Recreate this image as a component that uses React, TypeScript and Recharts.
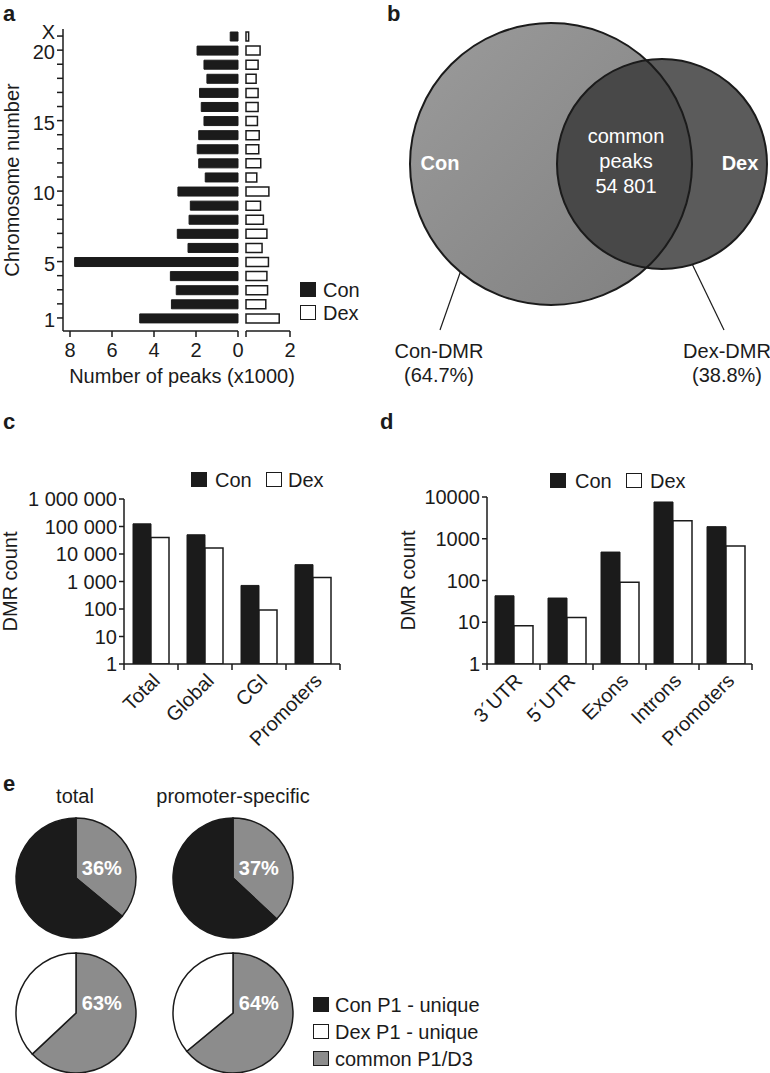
import React from "react";
import {
  BarChart, Bar, XAxis, YAxis, ScatterChart, Scatter, ReferenceLine, PieChart, Pie, Cell,
} from "recharts";

const FONT = "'Liberation Sans', Arial, Helvetica, sans-serif";
const INK = "#1b1b1b";
const GREY = "#8c8c8c";
const FS = 20;

// a: peaks per chromosome (x1000)
const chromosomes = ["1", "2", "3", "4", "5", "6", "7", "8", "9", "10", "11", "12", "13", "14", "15", "16", "17", "18", "19", "20", "X"];
const conPeaks = [4.68, 3.17, 2.94, 3.22, 7.78, 2.38, 2.89, 2.33, 2.27, 2.86, 1.56, 1.87, 1.94, 1.87, 1.62, 1.75, 1.83, 1.48, 1.62, 1.95, 0.37];
const dexPeaks = [1.51, 0.9, 0.98, 0.95, 1.02, 0.73, 0.95, 0.79, 0.66, 1.04, 0.49, 0.67, 0.58, 0.6, 0.52, 0.55, 0.55, 0.46, 0.55, 0.64, 0.12];
const chromosomeLabels = ["1", "5", "10", "15", "20", "X"];
const conPeakTicks = [0, 2, 4, 6, 8];
const dexPeakTicks = [0, 2];

// b: venn
const vennSets = ["Con", "Dex"];
const vennShares = ["64.7%", "38.8%"];
const commonPeaks = "54 801";

// c: DMR counts
const dmrRegions = ["Total", "Global", "CGI", "Promoters"];
const conDmr = [125000, 50000, 720, 4100];
const dexDmr = [40000, 16500, 92, 1400];
const dmrTicks = [1, 10, 100, 1000, 10000, 100000, 1000000];

// d: DMR counts by gene feature
const featureRegions = ["3´UTR", "5´UTR", "Exons", "Introns", "Promoters"];
const conFeature = [43, 38, 480, 7600, 1950];
const dexFeature = [8.3, 13, 91, 2700, 670];
const featureTicks = [1, 10, 100, 1000, 10000];

// e: overlap pies
const pieTitles = ["total", "promoter-specific"];
const conCommonShare = [36, 37];
const dexCommonShare = [63, 64];
const pieLegend = ["Con P1 - unique", "Dex P1 - unique", "common P1/D3"];

const peakRows = chromosomes.map((chr, i) => ({ chr, con: conPeaks[i], dex: dexPeaks[i] }));
const dmrRows = dmrRegions.map((region, i) => ({ region, con: conDmr[i], dex: dexDmr[i] }));
const featureRows = featureRegions.map((region, i) => ({ region, con: conFeature[i], dex: dexFeature[i] }));

// venn geometry, in panel pixel units
const vennCircles = [
  { name: vennSets[0], x: 181, y: 164, r: 141 },
  { name: vennSets[1], x: 292, y: 164, r: 105 },
];
const vennFill: Record<string, string> = { Con: "url(#venn-con-grad)", Dex: "#5b5b5b" };
const vennNotes = [
  { x: 70, y: 170, text: vennSets[0], bold: true },
  { x: 370, y: 170, text: vennSets[1], bold: true },
  { x: 256, y: 143, text: "common" },
  { x: 256, y: 168, text: "peaks" },
  { x: 256, y: 193, text: commonPeaks },
];
const vennCaptions = [
  { x: 69, y: 358, text: `${vennSets[0]}-DMR` },
  { x: 69, y: 382, text: `(${vennShares[0]})` },
  { x: 357, y: 358, text: `${vennSets[1]}-DMR` },
  { x: 357, y: 382, text: `(${vennShares[1]})` },
];
const VENN_K = 1;

const tickText = { fontSize: FS, fill: INK, fontFamily: FONT };
const axisLine = { stroke: INK, strokeWidth: 1.5 };
const spaced = (v: number) => String(v).replace(/\B(?=(\d{3})+(?!\d))/g, " ");

function Txt({ x, y, size = FS, bold = false, center = false, color = INK, children }: any) {
  return (
    <div
      style={{
        position: "absolute", left: x, top: y - 0.8465 * size, fontSize: size, lineHeight: `${size}px`,
        fontWeight: bold ? "bold" : "normal", color, fontFamily: FONT, whiteSpace: "nowrap",
        transform: center ? "translateX(-50%)" : undefined,
      }}
    >
      {children}
    </div>
  );
}

function Key({ x, top, fill, label, gap = 23 }: any) {
  return (
    <>
      <div style={{ position: "absolute", left: x, top, width: 16, height: 15, boxSizing: "border-box", background: fill, border: `1.5px solid ${INK}` }} />
      <Txt x={x + gap} y={top + 14.6}>{label}</Txt>
    </>
  );
}

const rotTick = (half: number, count: number) => (props: any) => {
  const { x, y, payload, index } = props;
  const h = payload && payload.offset ? payload.offset : half;
  const ly = y + 8;
  return (
    <g>
      <line x1={x - h} x2={x - h} y1={y} y2={y + 6} stroke={INK} strokeWidth={1.5} />
      {index === count - 1 && <line x1={x + h} x2={x + h} y1={y} y2={y + 6} stroke={INK} strokeWidth={1.5} />}
      <text x={x} y={ly} dy="0.71em" textAnchor="end" transform={`rotate(-45, ${x}, ${ly})`} {...tickText}>
        {payload.value}
      </text>
    </g>
  );
};

const chrTick = (props: any) => {
  const { x, y, payload } = props;
  if (!chromosomeLabels.includes(payload.value)) return <g />;
  return (
    <text x={x} y={y} dy={payload.value === "X" ? "0.15em" : "0.45em"} textAnchor="end" {...tickText}>
      {payload.value}
    </text>
  );
};

function PanelA() {
  const yCommon = {
    type: "category" as const, dataKey: "chr", reversed: true, interval: 0,
    padding: { top: 0, bottom: 6 },
  };
  return (
    <>
      <div style={{ position: "absolute", left: 0, top: 0 }}>
        <BarChart layout="vertical" width={245} height={400} data={peakRows} margin={{ top: 29, right: 7, left: 0, bottom: 29 }} barSize={9}>
          <XAxis type="number" domain={[0, 8]} ticks={conPeakTicks} reversed padding={{ left: 7, right: 0 }} height={40}
            axisLine={axisLine} tickLine={axisLine} tickSize={6} tickMargin={6} tick={tickText} />
          <YAxis {...yCommon} width={63} axisLine={axisLine} tickLine={axisLine} tickSize={6} tick={chrTick}
            label={{ value: "Chromosome number", angle: -90, position: "insideLeft", offset: 12, style: { textAnchor: "middle", fontSize: FS, fill: INK, fontFamily: FONT } }} />
          <Bar dataKey="con" fill={INK} stroke={INK} strokeWidth={1} isAnimationActive={false} />
        </BarChart>
      </div>
      <div style={{ position: "absolute", left: 238, top: 0 }}>
        <BarChart layout="vertical" width={62} height={400} data={peakRows} margin={{ top: 29, right: 10, left: 8, bottom: 29 }} barSize={9}>
          <XAxis type="number" domain={[0, 2]} ticks={dexPeakTicks} height={40}
            axisLine={axisLine} tickLine={axisLine} tickSize={6} tickMargin={6} tick={tickText}
            tickFormatter={(v: number) => (v === 0 ? "" : String(v))} />
          <YAxis {...yCommon} hide />
          <Bar dataKey="dex" fill="#fff" stroke={INK} strokeWidth={1.5} isAnimationActive={false} />
        </BarChart>
      </div>
      <Txt x={182} y={383} center>Number of peaks (x1000)</Txt>
      <Key x={300} top={282} fill={INK} label="Con" />
      <Key x={300} top={305} fill="#fff" label="Dex" />
    </>
  );
}

function PanelB() {
  const [con, dex] = vennCircles;
  const disk = (p: any) => <circle cx={p.cx} cy={p.cy} r={p.payload.r * VENN_K} fill={vennFill[p.payload.name]} />;
  const common = (p: any) => {
    const ox = p.cx + (con.x - dex.x) * VENN_K;
    const oy = p.cy + (con.y - dex.y) * VENN_K;
    return (
      <g>
        <defs>
          <clipPath id="venn-con-clip">
            <circle cx={ox} cy={oy} r={con.r * VENN_K} />
          </clipPath>
        </defs>
        <circle cx={p.cx} cy={p.cy} r={dex.r * VENN_K} fill="#484848" clipPath="url(#venn-con-clip)" />
      </g>
    );
  };
  const ring = (p: any) => <circle cx={p.cx} cy={p.cy} r={p.payload.r * VENN_K} fill="none" stroke={INK} strokeWidth={2} />;
  const note = (p: any) => (
    <text x={p.cx} y={p.cy} textAnchor="middle" fontSize={FS} fontFamily={FONT} fontWeight={p.payload.bold ? "bold" : "normal"} fill="#fff">
      {p.payload.text}
    </text>
  );
  const caption = (p: any) => (
    <text x={p.cx} y={p.cy} textAnchor="middle" fontSize={FS} fontFamily={FONT} fill={INK}>{p.payload.text}</text>
  );
  return (
    <div style={{ position: "absolute", left: 370, top: 0 }}>
      <ScatterChart width={400} height={420} margin={{ top: 0, right: 0, bottom: 0, left: 0 }}>
        <defs>
          <linearGradient id="venn-con-grad" x1="0" y1="0" x2="1" y2="1">
            <stop offset="0%" stopColor="#9b9b9b" />
            <stop offset="100%" stopColor="#7f7f7f" />
          </linearGradient>
        </defs>
        <XAxis type="number" dataKey="x" domain={[0, 400]} hide />
        <YAxis type="number" dataKey="y" domain={[0, 420]} reversed hide />
        <Scatter data={vennCircles} shape={disk} isAnimationActive={false} />
        <Scatter data={[dex]} shape={common} isAnimationActive={false} />
        <Scatter data={vennCircles} shape={ring} isAnimationActive={false} />
        <ReferenceLine segment={[{ x: 97, y: 253 }, { x: 70, y: 330 }]} stroke={INK} strokeWidth={1.2} ifOverflow="visible" />
        <ReferenceLine segment={[{ x: 312, y: 243 }, { x: 354, y: 330 }]} stroke={INK} strokeWidth={1.2} ifOverflow="visible" />
        <Scatter data={vennNotes} shape={note} isAnimationActive={false} />
        <Scatter data={vennCaptions} shape={caption} isAnimationActive={false} />
      </ScatterChart>
    </div>
  );
}

function DmrChart({ rows, ticks, width, yWidth, top, labelOffset, barSize, fmt }: any) {
  const plotW = width - yWidth - 10;
  return (
    <BarChart width={width} height={320} data={rows} margin={{ top, right: 10, left: 0, bottom: 0 }} barSize={barSize} barGap={0}>
      <XAxis dataKey="region" interval={0} height={96} axisLine={axisLine} tickLine={false} tickSize={0} tickMargin={0}
        tick={rotTick(plotW / rows.length / 2, rows.length)} />
      <YAxis scale="log" domain={[ticks[0], ticks[ticks.length - 1]]} ticks={ticks} interval={0} allowDataOverflow width={yWidth}
        axisLine={axisLine} tickLine={axisLine} tickSize={5} tick={tickText} tickFormatter={fmt}
        label={{ value: "DMR count", angle: -90, position: "insideLeft", offset: labelOffset, style: { textAnchor: "middle", fontSize: FS, fill: INK, fontFamily: FONT } }} />
      <Bar dataKey="con" fill={INK} stroke={INK} strokeWidth={1} isAnimationActive={false} />
      <Bar dataKey="dex" fill="#fff" stroke={INK} strokeWidth={1.5} isAnimationActive={false} />
    </BarChart>
  );
}

function PiePair({ share, rest, restName }: any) {
  const data = [
    { name: pieLegend[2], value: share },
    { name: restName, value: 100 - share },
  ];
  const label = (p: any) =>
    p.index === 0 ? (
      <text x={p.cx + p.outerRadius * 0.43} y={p.cy - p.outerRadius * 0.05} textAnchor="middle" fontSize={FS} fontWeight="bold" fontFamily={FONT} fill="#fff">
        {`${p.value}%`}
      </text>
    ) : null;
  return (
    <PieChart width={130} height={130} margin={{ top: 0, right: 0, bottom: 0, left: 0 }}>
      <Pie data={data} dataKey="value" cx="50%" cy="50%" outerRadius={60} startAngle={90} endAngle={-270}
        stroke={INK} strokeWidth={1.5} label={label} labelLine={false} isAnimationActive={false}>
        <Cell fill={GREY} />
        <Cell fill={rest} />
      </Pie>
    </PieChart>
  );
}

export default function App() {
  return (
    <div style={{ position: "absolute", left: 0, top: 0, width: 770, height: 1073, background: "#fff", fontFamily: FONT, overflow: "hidden" }}>
      <Txt x={3} y={22} size={22} bold>a</Txt>
      <Txt x={387} y={22} size={22} bold>b</Txt>
      <Txt x={3} y={430} size={22} bold>c</Txt>
      <Txt x={380} y={430} size={22} bold>d</Txt>
      <Txt x={3} y={792} size={22} bold>e</Txt>

      <PanelA />
      <PanelB />

      <div style={{ position: "absolute", left: 0, top: 440 }}>
        <DmrChart rows={dmrRows} ticks={dmrTicks} width={350} yWidth={124} top={59} labelOffset={10} barSize={18} fmt={spaced} />
      </div>
      <Key x={191} top={472} fill={INK} label="Con" gap={24} />
      <Key x={266} top={472} fill="#fff" label="Dex" gap={22} />

      <div style={{ position: "absolute", left: 380, top: 440 }}>
        <DmrChart rows={featureRows} ticks={featureTicks} width={382} yWidth={107} top={57} labelOffset={28} barSize={19} fmt={(v: number) => String(v)} />
      </div>
      <Key x={550} top={473} fill={INK} label="Con" gap={25} />
      <Key x={626} top={473} fill="#fff" label="Dex" gap={24} />

      <Txt x={75} y={803} center>{pieTitles[0]}</Txt>
      <Txt x={233} y={803} center>{pieTitles[1]}</Txt>
      <div style={{ position: "absolute", left: 11, top: 813 }}>
        <PiePair share={conCommonShare[0]} rest={INK} restName={pieLegend[0]} />
      </div>
      <div style={{ position: "absolute", left: 168, top: 813 }}>
        <PiePair share={conCommonShare[1]} rest={INK} restName={pieLegend[0]} />
      </div>
      <div style={{ position: "absolute", left: 11, top: 948 }}>
        <PiePair share={dexCommonShare[0]} rest="#fff" restName={pieLegend[1]} />
      </div>
      <div style={{ position: "absolute", left: 168, top: 948 }}>
        <PiePair share={dexCommonShare[1]} rest="#fff" restName={pieLegend[1]} />
      </div>
      <Key x={313} top={997} fill={INK} label={pieLegend[0]} gap={22} />
      <Key x={313} top={1024} fill="#fff" label={pieLegend[1]} gap={22} />
      <Key x={313} top={1051} fill={GREY} label={pieLegend[2]} gap={22} />
    </div>
  );
}
